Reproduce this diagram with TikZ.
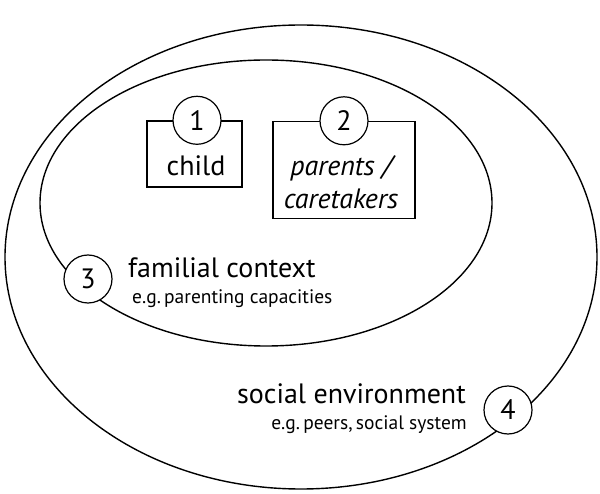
\documentclass[tikz,border=0pt]{standalone}
\usepackage{fontspec}
\setmainfont{PT Sans}
\usetikzlibrary{positioning,shapes.geometric}

\tikzset{
	ring/.style    = {ellipse, draw, line width=1.4pt, inner sep=0pt},
	member/.style  = {draw, line width=1.4pt, inner sep=0pt},
	numcirc/.style = {circle, draw, fill=white, line width=1.2pt, minimum size=48pt,
		inner sep=0pt, font=\fontsize{28}{28}\selectfont},
	big/.style     = {inner sep=0pt, font=\fontsize{28}{31}\selectfont},
	small/.style   = {inner sep=0pt, font=\fontsize{19.5}{22}\selectfont},
}

\begin{document}
\begin{tikzpicture}[x=1pt, y=-1pt]
		\useasboundingbox (0,0) rectangle (600,494);
		% levels
		\node[ring, minimum width=592pt, minimum height=464pt] (social) at (301,257) {};
		\node[ring, minimum width=452pt, minimum height=286pt] (familial) at (266,203) {};
		% boxes
		\node[member, minimum width=95pt, minimum height=66pt] (childbox) at (194.5,154) {};
		\node[member, minimum width=142pt, minimum height=97pt] (parentbox) at (344,170) {};
		\node[big] (child) at (196,166) {child};
		\node[big, align=center, font=\fontsize{28}{33}\selectfont\itshape]
			(parents) at (341,182) {parents /\\caretakers};
		% numbers
		\node[numcirc] (n1) at (childbox.north) [xshift=2.5pt] {1};
		\node[numcirc] (n2) at (parentbox.north) {2};
		\node[numcirc] (n3) at (88,279) {3};
		\node[numcirc] (n4) at (508,410) {4};
		% texts
		\node[big, anchor=base west] (famtext) at (128,278) {familial context};
		\node[small, anchor=base west] (famex) at (132,304) {e.g.\,parenting capacities};
		\node[big, anchor=base east] (soctext) at (466,403) {social environment};
		\node[small, anchor=base east] (socex) at (467,429) {e.g.\,peers,\,social system};
\end{tikzpicture}
\end{document}
